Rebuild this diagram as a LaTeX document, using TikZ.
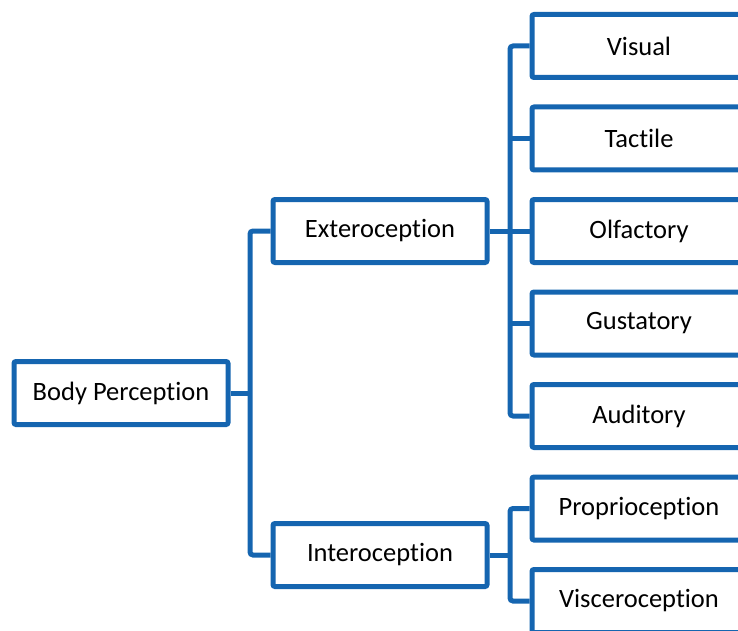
\documentclass[tikz,border=0pt]{standalone}
\usepackage{fontspec}
\setmainfont{Carlito}[Ligatures=NoCommon]
\definecolor{treeblue}{RGB}{21,101,176}
\begin{document}
\begin{tikzpicture}[x=1pt,y=-1pt,
  box/.style={draw=treeblue, line width=5pt, fill=white, rounded corners=2pt,
    minimum width=214pt, minimum height=63pt, inner sep=0pt,
    font=\fontsize{26.5}{30}\selectfont, text=black},
  conn/.style={draw=treeblue, line width=5pt, rounded corners=3pt}]
\useasboundingbox (0,0) rectangle (738,631);

% root and first level
\node[box] (bp)  at (121,393)   {Body Perception};
\node[box] (ext) at (380,231)   {Exteroception};
\node[box] (int) at (380,555)   {Interoception};

% leaves
\node[box] (vis) at (639,46)    {Visual};
\node[box] (tac) at (639,138.5) {Tactile};
\node[box] (olf) at (639,231)   {Olfactory};
\node[box] (gus) at (639,323.5) {Gustatory};
\node[box] (aud) at (639,416)   {Auditory};
\node[box] (pro) at (639,508.5) {Proprioception};
\node[box] (vsc) at (639,601)   {Visceroception};

% junction points of the bracket connectors
\coordinate (j1) at (250,393);
\coordinate (j2) at (510,231);
\coordinate (j3) at (510,555);

% root to first level
\draw[conn] (bp.east) -- (j1);
\draw[conn] (ext.west) -| (j1) |- (int.west);

% exteroception branches
\draw[conn] (ext.east) -- (j2);
\draw[conn] (vis.west) -| (j2) |- (aud.west);
\draw[conn] (j2 |- tac.west) -- (tac.west);
\draw[conn] (j2) -- (olf.west);
\draw[conn] (j2 |- gus.west) -- (gus.west);

% interoception branches
\draw[conn] (int.east) -- (j3);
\draw[conn] (pro.west) -| (j3) |- (vsc.west);
\end{tikzpicture}
\end{document}
